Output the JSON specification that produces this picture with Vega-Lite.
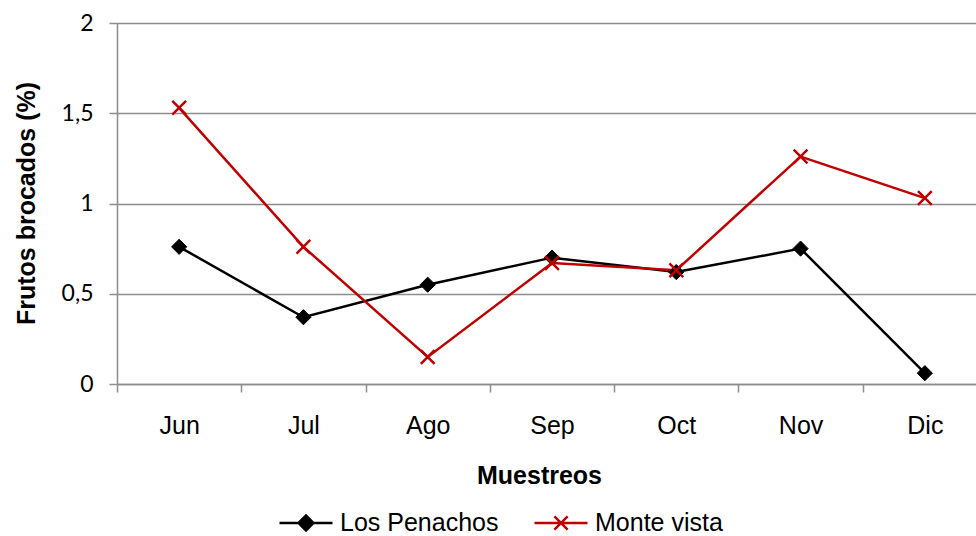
{
  "$schema": "https://vega.github.io/schema/vega-lite/v6.json",
  "autosize": "none",
  "width": 859,
  "height": 361,
  "padding": {"left": 117, "top": 23, "right": 0, "bottom": 152},
  "background": "white",
  "data": {
    "values": [
      {"mes": "Jun", "serie": "Los Penachos", "valor": 0.76},
      {"mes": "Jul", "serie": "Los Penachos", "valor": 0.37},
      {"mes": "Ago", "serie": "Los Penachos", "valor": 0.55},
      {"mes": "Sep", "serie": "Los Penachos", "valor": 0.70},
      {"mes": "Oct", "serie": "Los Penachos", "valor": 0.62},
      {"mes": "Nov", "serie": "Los Penachos", "valor": 0.75},
      {"mes": "Dic", "serie": "Los Penachos", "valor": 0.06},
      {"mes": "Jun", "serie": "Monte vista", "valor": 1.53},
      {"mes": "Jul", "serie": "Monte vista", "valor": 0.76},
      {"mes": "Ago", "serie": "Monte vista", "valor": 0.15},
      {"mes": "Sep", "serie": "Monte vista", "valor": 0.67},
      {"mes": "Oct", "serie": "Monte vista", "valor": 0.63},
      {"mes": "Nov", "serie": "Monte vista", "valor": 1.26},
      {"mes": "Dic", "serie": "Monte vista", "valor": 1.03}
    ]
  },
  "encoding": {
    "x": {
      "field": "mes",
      "type": "nominal",
      "sort": ["Jun", "Jul", "Ago", "Sep", "Oct", "Nov", "Dic"],
      "scale": {"type": "band", "range": [0, 870], "paddingInner": 0, "paddingOuter": 0},
      "axis": {
        "title": "Muestreos",
        "labelAngle": 0,
        "labelFont": "Liberation Sans",
        "labelFontSize": 25,
        "labelColor": "black",
        "labelPadding": 21,
        "tickBand": "extent",
        "tickSize": 8,
        "tickColor": "#8c8c8c",
        "tickWidth": 1.5,
        "domainColor": "#8c8c8c",
        "domainWidth": 1.5,
        "grid": false,
        "titleFont": "Liberation Sans",
        "titleFontSize": 25,
        "titleFontWeight": "bold",
        "titleColor": "black",
        "titlePadding": 25,
        "titleX": 422
      }
    },
    "y": {
      "field": "valor",
      "type": "quantitative",
      "scale": {"domain": [0, 2], "nice": false, "zero": true},
      "axis": {
        "title": "Frutos brocados (%)",
        "values": [0, 0.5, 1, 1.5, 2],
        "labelExpr": "replace(format(datum.value, '~g'), '.', ',')",
        "labelFont": "Lato",
        "labelFontSize": 23,
        "labelColor": "black",
        "labelPadding": 16,
        "tickSize": 8,
        "tickColor": "#8c8c8c",
        "tickWidth": 1.5,
        "domainColor": "#8c8c8c",
        "domainWidth": 1.5,
        "grid": true,
        "gridColor": "#8c8c8c",
        "gridWidth": 1.5,
        "titleFont": "Liberation Sans",
        "titleFontSize": 25,
        "titleFontWeight": "bold",
        "titleColor": "black",
        "titleAngle": -90,
        "titleBaseline": "alphabetic",
        "titleAlign": "center",
        "titleX": -83,
        "titleY": 180
      }
    }
  },
  "layer": [
    {
      "mark": {"type": "line", "strokeWidth": 2.5},
      "encoding": {
        "color": {
          "field": "serie",
          "type": "nominal",
          "scale": {"domain": ["Los Penachos", "Monte vista"], "range": ["#000000", "#C00000"]},
          "legend": {
            "orient": "none",
            "direction": "horizontal",
            "legendX": 161,
            "legendY": 472,
            "title": null,
            "symbolSize": 2809,
            "symbolStrokeWidth": 2.5,
            "labelFont": "Liberation Sans",
            "labelFontSize": 25,
            "labelColor": "black",
            "labelLimit": 0,
            "labelOffset": 6,
            "columnPadding": 30,
            "encode": {
              "symbols": {
                "update": {
                  "shape": {"signal": "datum.value === 'Los Penachos' ? 'M-1,0L1,0M-0.28,0L0,-0.28L0.28,0L0,0.28Z' : 'M-1,0L1,0M-0.25,-0.25L0.25,0.25M-0.25,0.25L0.25,-0.25'"},
                  "size": {"value": 2809},
                  "fill": {"signal": "datum.value === 'Los Penachos' ? '#000000' : 'transparent'"},
                  "stroke": {"signal": "datum.value === 'Los Penachos' ? '#000000' : '#C00000'"},
                  "strokeWidth": {"value": 2.5},
                  "opacity": {"value": 1}
                }
              }
            }
          }
        }
      }
    },
    {
      "transform": [{"filter": "datum.serie === 'Los Penachos'"}],
      "mark": {"type": "point", "shape": "diamond", "filled": true, "fill": "#000000", "stroke": "#000000", "strokeWidth": 1, "size": 230, "opacity": 1}
    },
    {
      "transform": [{"filter": "datum.serie === 'Monte vista'"}],
      "mark": {"type": "point", "shape": "M-1,-1L1,1M-1,1L1,-1", "filled": false, "stroke": "#C00000", "strokeWidth": 2.5, "size": 190, "opacity": 1}
    }
  ],
  "config": {
    "view": {"stroke": null}
  }
}
